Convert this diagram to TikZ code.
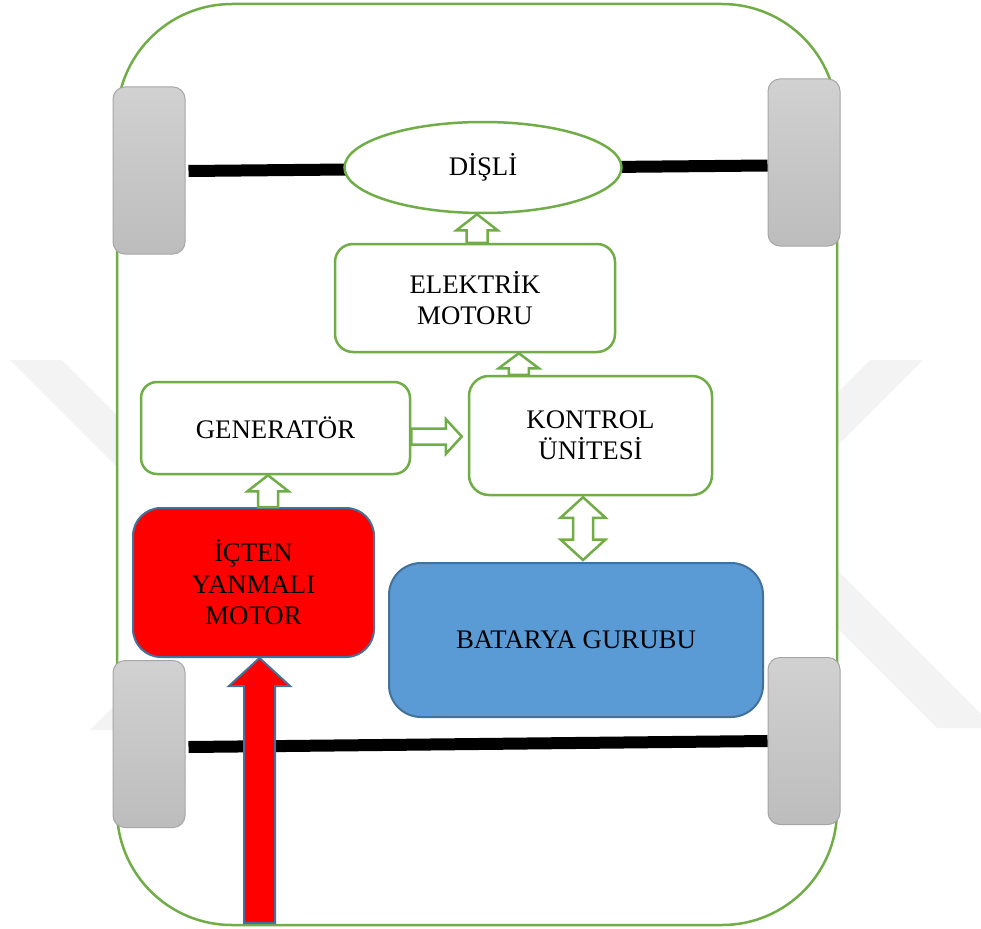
\documentclass[tikz,border=0pt]{standalone}
\usepackage{fontspec}
\setmainfont{Liberation Serif}
\usetikzlibrary{calc,shapes.geometric}

\definecolor{framegreen}{HTML}{70AD47}
\definecolor{edgeblue}{HTML}{41719C}
\definecolor{packblue}{HTML}{5B9BD5}
\definecolor{wheelrim}{HTML}{A6A6A6}
\definecolor{wmgrey}{HTML}{F3F3F3}

% straight block arrow from #2 to #3: shaft half width #4, head half width #5, head length #6
\newcommand\blockarrow[6][]{%
  \coordinate (ba-h) at ($(#3)!#6!(#2)$);
  \draw[#1] ($(#2)!#4!90:(#3)$) -- ($(ba-h)!#4!90:(#3)$) -- ($(ba-h)!#5!90:(#3)$) -- (#3)
    -- ($(ba-h)!#5!-90:(#3)$) -- ($(ba-h)!#4!-90:(#3)$) -- ($(#2)!#4!-90:(#3)$) -- cycle;
}
% block arrow with heads at both ends
\newcommand\twowayarrow[6][]{%
  \coordinate (tw-a) at ($(#2)!#6!(#3)$);
  \coordinate (tw-b) at ($(#3)!#6!(#2)$);
  \draw[#1] (#2) -- ($(tw-a)!#5!90:(#3)$) -- ($(tw-a)!#4!90:(#3)$) -- ($(tw-b)!#4!90:(#3)$)
    -- ($(tw-b)!#5!90:(#3)$) -- (#3) -- ($(tw-b)!#5!-90:(#3)$) -- ($(tw-b)!#4!-90:(#3)$)
    -- ($(tw-a)!#4!-90:(#3)$) -- ($(tw-a)!#5!-90:(#3)$) -- cycle;
}

\tikzset{
  label text/.style={font=\fontsize{26.8}{31.5}\selectfont, align=center, text=black},
  unitbox/.style={draw=framegreen, line width=2.5pt, fill=white, inner sep=0pt, label text},
  wheel/.style={draw=wheelrim, line width=1pt, top color=black!18, bottom color=black!26,
    rounded corners=12pt, minimum width=72pt, minimum height=167pt, inner sep=0pt},
  axle/.style={line width=12pt, black},
  flow/.style={draw=framegreen, line width=2.5pt, fill=white},
  engineflow/.style={draw=edgeblue, line width=2pt, fill=red},
}

\begin{document}
\begin{tikzpicture}[x=1pt,y=-1pt]
\useasboundingbox (0,0) rectangle (981,928);

% faint background marks
\fill[wmgrey] (10,360) -- (62,360) -- (300,598) -- (248,598) -- cycle;
\fill[wmgrey] (90,730) -- (142,730) -- (260,612) -- (208,612) -- cycle;
\fill[wmgrey] (870,360) -- (923,360) -- (700,583) -- (647,583) -- cycle;
\fill[wmgrey] (937,728) -- (995,728) -- (800,533) -- (742,533) -- cycle;

% vehicle body
\draw[framegreen, line width=2.5pt, fill=white, rounded corners=115pt] (117,4) rectangle (837,925);

% wheels
\node[wheel] (wtl) at (149,170.5) {};
\node[wheel] (wtr) at (804,162.5) {};
\node[wheel] (wbl) at (149,744) {};
\node[wheel] (wbr) at (804,741) {};

% axles
\draw[axle] ($(wtl.east)+(3,0.5)$) -- ($(wtr.west)+(0,3)$);
\draw[axle] ($(wbl.east)+(3,3)$) -- (wbr.west);

% units
\node[unitbox, ellipse, minimum width=277pt, minimum height=91pt] (disli) at (483,167.5) {DİŞLİ};
\node[unitbox, rounded corners=18pt, minimum width=280pt, minimum height=108pt] (elek) at (475,298) {ELEKTRİK\\MOTORU};
\node[unitbox, rounded corners=20pt, minimum width=243pt, minimum height=119pt] (kont) at (590.5,435.5) {KONTROL\\ÜNİTESİ};
\node[unitbox, rounded corners=16pt, minimum width=269pt, minimum height=92pt] (gen) at (275.5,428) {GENERATÖR};
\node[draw=edgeblue, line width=2pt, fill=red, rounded corners=28pt, minimum width=241pt,
  minimum height=149pt, inner sep=0pt, label text] (ice) at (253.5,582.5) {İÇTEN\\YANMALI\\MOTOR};
\node[draw=edgeblue, line width=2pt, fill=packblue, rounded corners=32pt, minimum width=374pt,
  minimum height=154pt, inner sep=0pt, label text] (bat) at (576,640) {BATARYA GURUBU};

% flow arrows
\coordinate (a1s) at ($(elek.north)+(2,0)$);
\coordinate (a1e) at (a1s |- disli.south);
\blockarrow[flow]{a1s}{a1e}{10.5pt}{20.5pt}{16pt}

\coordinate (a2s) at ($(kont.north west)+(51,0)$);
\coordinate (a2e) at (a2s |- elek.south);
\blockarrow[flow]{a2s}{a2e}{10pt}{20pt}{15pt}

\coordinate (a3s) at ($(gen.east)+(0,8.5)$);
\coordinate (a3e) at ($(a3s -| kont.west)+(-6,0)$);
\blockarrow[flow]{a3s}{a3e}{8pt}{17.5pt}{16pt}

\coordinate (a4s) at ($(ice.north)+(14.5,0)$);
\coordinate (a4e) at (a4s |- gen.south);
\blockarrow[flow]{a4s}{a4e}{10pt}{20.5pt}{16pt}

\coordinate (a5s) at ($(kont.south)+(-7.5,1)$);
\coordinate (a5e) at ($(a5s |- bat.north)+(0,-2)$);
\twowayarrow[flow]{a5s}{a5e}{10pt}{22.5pt}{20.5pt}

% fuel input arrow
\coordinate (fuel) at (259.5,923);
\coordinate (fueltip) at (fuel |- ice.south);
\blockarrow[engineflow]{fuel}{fueltip}{15.5pt}{30.5pt}{28pt}
\end{tikzpicture}
\end{document}
